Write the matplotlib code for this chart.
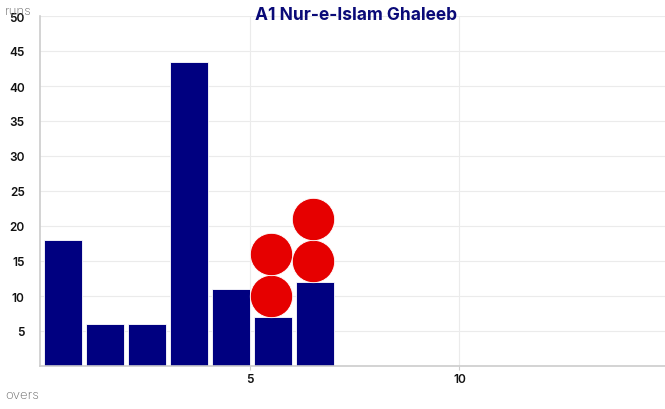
import numpy as np
import matplotlib.pyplot as plt

overs = [1, 2, 3, 4, 5, 6, 7]
runs = [18, 6, 6, 43.5, 11, 7, 12]
wicket_overs = [5.5, 5.5, 6.5, 6.5]
wicket_runs = [10, 16, 15, 21]
title = "A1 Nur-e-Islam Ghaleeb"

plt.rcParams['font.family'] = ['Inter', 'DejaVu Sans']

fig = plt.figure(figsize=(6.65, 4.1), dpi=100)
ax = fig.add_axes([40/665, 43/410, 625/665, 350/410])

ax.bar(np.array(overs) - 0.45, runs, width=0.9, color="#000080",
       edgecolor="white", linewidth=0.6, zorder=2)
ax.plot(wicket_overs, wicket_runs, 'o', color="#e60000", markersize=30.5,
        markeredgecolor="white", markeredgewidth=0.6, zorder=3)

ax.set_xlim(0, 14.9)
ax.set_ylim(0, 50)
ax.set_xticks([5, 10])
ax.set_yticks(range(5, 51, 5))
ax.grid(True, color="#ebebeb", linewidth=0.8, zorder=0)
ax.set_axisbelow(True)

for s in ['top', 'right']:
    ax.spines[s].set_visible(False)
ax.spines['left'].set_color("#cccccc")
ax.spines['bottom'].set_color("#cccccc")
ax.spines['left'].set_linewidth(1.2)
ax.spines['bottom'].set_linewidth(1.2)

ax.tick_params(axis='y', length=0, pad=11, labelsize=8.5, labelcolor="#111111")
ax.tick_params(axis='x', length=3, color="#cccccc", pad=2, labelsize=8.5,
               labelcolor="#111111")
for lbl in ax.get_xticklabels() + ax.get_yticklabels():
    lbl.set_fontweight('semibold')

fig.text(356/665, 1 - 16/410, title, ha='center', va='center', fontsize=12.5,
         fontweight='bold', color="#0a0a78")
fig.text(5/665, 1 - 12/410, "runs", ha='left', va='center', fontsize=9.5,
         color="#666666", fontweight='light')
fig.text(5/665, 1 - 396/410, "overs", ha='left', va='center', fontsize=9.5,
         color="#666666", fontweight='light')

fig.savefig("out.png", dpi=100)
